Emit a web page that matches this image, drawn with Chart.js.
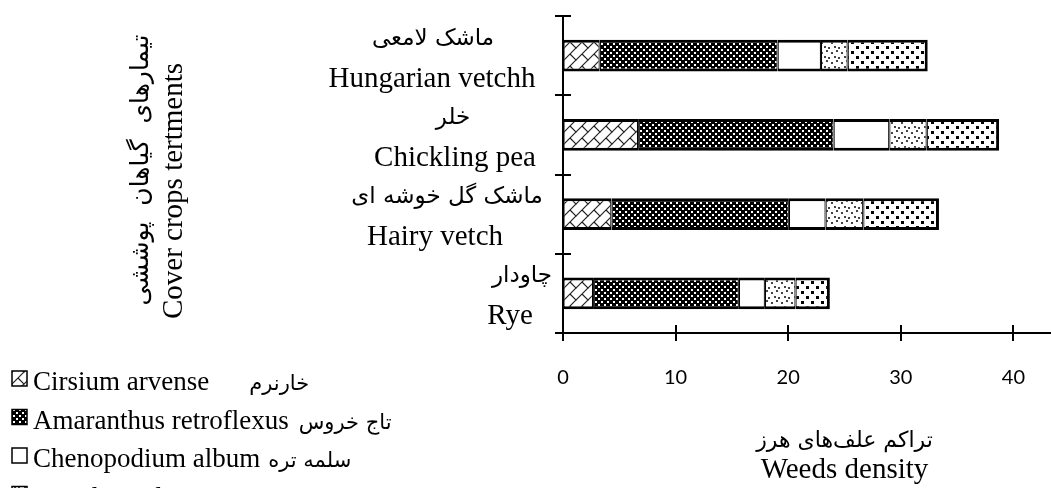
<!DOCTYPE html>
<html>
<head>
<meta charset="utf-8">
<script src="https://cdn.jsdelivr.net/npm/chart.js@4.4.0/dist/chart.umd.min.js"></script>
<style>
    html, body { margin: 0; padding: 0; background: #fff; overflow: hidden; }
    #contenedor { position: relative; width: 1140px; height: 488px; }
    #grafico { display: block; }
</style>
</head>
<body>
<div id="contenedor"><canvas id="grafico" width="1140" height="488"></canvas></div>
<script>
// Cover crops, top to bottom
const cultivos = ['Hungarian vetchh', 'Chickling pea', 'Hairy vetch', 'Rye'];
const cultivosFa = ['ماشک لامعی', 'خلر', 'ماشک گل خوشه ای', 'چاودار'];

// Weed species (series)
const malezas = ['Cirsium arvense', 'Amaranthus retroflexus', 'Chenopodium album', 'Portulaca oleracea', 'Convolvulus arvensis'];
const malezasFa = ['خارنرم', 'تاج خروس', 'سلمه تره', 'خرفه', 'پیچک صحرایی'];

// Weed density per crop (same order as cultivos)
const cirsium = [3.26, 6.67, 4.3, 2.67];
const amaranthus = [15.8, 17.36, 15.76, 12.95];
const chenopodium = [3.85, 4.95, 3.26, 2.31];
const portulaca = [2.37, 3.32, 3.35, 2.72];
const convolvulus = [7.11, 6.43, 6.72, 3.05];

const ticksX = [0, 10, 20, 30, 40, 50];

// Text placement (pixels)
const etiquetaXFa = [433, 453, 447, 522];
const etiquetaXEn = [432, 455, 435, 510];
const legendaGap = [40, 10, 8, 10, 10];

const SERIF = "'Liberation Serif', 'Times New Roman', serif";
const FA = "'DejaVu Sans', sans-serif";

// Build a fill pattern from a small tile
function crearPatron(size, dibujar) {
    const c = document.createElement('canvas');
    c.width = size; c.height = size;
    const g = c.getContext('2d');
    g.fillStyle = '#fff';
    g.fillRect(0, 0, size, size);
    dibujar(g);
    return g.createPattern(c, 'repeat');
}

const patrones = [
    // diagonal brick
    crearPatron(12, g => {
        g.strokeStyle = '#222';
        g.lineWidth = 1.2;
        g.beginPath();
        g.moveTo(-1, 13); g.lineTo(13, -1);
        g.moveTo(6, 6); g.lineTo(12, 12);
        g.moveTo(0, 0); g.lineTo(0.5, 0.5);
        g.stroke();
    }),
    // dark checker
    crearPatron(6, g => {
        g.fillStyle = '#000';
        g.fillRect(0, 0, 6, 6);
        g.fillStyle = '#fff';
        g.fillRect(1, 1, 2, 2);
        g.fillRect(4, 4, 2, 2);
    }),
    '#ffffff',
    // light dots
    crearPatron(10, g => {
        g.fillStyle = '#444';
        g.fillRect(1, 2, 2, 2);
        g.fillRect(6, 0, 2, 2);
        g.fillRect(4, 6, 2, 2);
        g.fillRect(8, 7, 2, 2);
    }),
    // heavy dots
    crearPatron(10, g => {
        g.fillStyle = '#000';
        g.fillRect(1, 1, 3, 3);
        g.fillRect(6, 6, 3, 3);
    })
];

const valores = [cirsium, amaranthus, chenopodium, portulaca, convolvulus];

function linea(ctx, x1, y1, x2, y2) {
    ctx.beginPath();
    ctx.moveTo(x1, y1);
    ctx.lineTo(x2, y2);
    ctx.stroke();
}

// Tick marks, category labels, axis titles and legend
const capaTexto = {
    id: 'capaTexto',
    afterDraw(chart) {
        const ctx = chart.ctx;
        const x = chart.scales.x;
        const y = chart.scales.y;
        const area = chart.chartArea;
        ctx.save();
        ctx.strokeStyle = '#000';
        ctx.lineWidth = 2;

        x.ticks.forEach(t => {
            const px = Math.round(x.getPixelForValue(t.value));
            linea(ctx, px, area.bottom - 8, px, area.bottom + 8);
        });
        const n = cultivos.length;
        for (let k = 0; k <= n; k++) {
            const py = Math.round(area.top + k * (area.bottom - area.top) / n);
            linea(ctx, area.left - 8, py, area.left + 8, py);
        }

        ctx.fillStyle = '#000';
        ctx.textBaseline = 'alphabetic';
        ctx.textAlign = 'center';
        cultivos.forEach((c, i) => {
            const py = y.getPixelForValue(i);
            ctx.font = '23px ' + FA;
            ctx.fillText(cultivosFa[i], etiquetaXFa[i], py - 11);
            ctx.font = '29px ' + SERIF;
            ctx.fillText(c, etiquetaXEn[i], py + 31);
        });

        // y axis title
        ctx.save();
        ctx.translate(148, 170);
        ctx.rotate(-Math.PI / 2);
        ctx.font = '25px ' + FA;
        ctx.fillText('تیمارهای  گیاهان  پوششی', 0, 0);
        ctx.restore();
        ctx.save();
        ctx.translate(182, 191);
        ctx.rotate(-Math.PI / 2);
        ctx.font = '29px ' + SERIF;
        ctx.fillText('Cover crops tertments', 0, 0);
        ctx.restore();

        // x axis title
        const cx = (area.left + area.right) / 2;
        ctx.font = '22px ' + FA;
        ctx.fillText('تراکم علف\u200cهای هرز', cx, 447);
        ctx.font = '29px ' + SERIF;
        ctx.fillText('Weeds density', cx, 478);

        // legend
        ctx.textAlign = 'left';
        chart.data.datasets.forEach((ds, i) => {
            const base = 390 + i * 38.5;
            ctx.fillStyle = ds.backgroundColor;
            ctx.fillRect(12, base - 19, 15, 15);
            ctx.lineWidth = 1.5;
            ctx.strokeRect(12, base - 19, 15, 15);
            ctx.fillStyle = '#000';
            ctx.font = '27px ' + SERIF;
            ctx.fillText(ds.label, 33, base);
            const w = ctx.measureText(ds.label).width;
            ctx.font = '21px ' + FA;
            ctx.fillText(malezasFa[i], 33 + w + legendaGap[i], base);
        });
        ctx.restore();
    }
};

const datasets = malezas.map((m, i) => ({
    label: m,
    data: valores[i],
    backgroundColor: patrones[i],
    borderColor: '#000',
    borderWidth: { top: 3, bottom: 3, left: 1.2, right: i === malezas.length - 1 ? 3 : 1.2 },
    borderSkipped: false,
    categoryPercentage: 1,
    barPercentage: 0.4
}));

const grafico = new Chart(document.getElementById('grafico'), {
    type: 'bar',
    data: { labels: cultivos, datasets: datasets },
    options: {
        indexAxis: 'y',
        responsive: false,
        devicePixelRatio: 1,
        animation: false,
        layout: { padding: { top: 16, right: 14, left: 0, bottom: 0 } },
        plugins: { legend: { display: false }, tooltip: { enabled: false } },
        scales: {
            x: {
                stacked: true,
                min: ticksX[0],
                max: ticksX[ticksX.length - 1],
                afterBuildTicks: s => { s.ticks = ticksX.map(v => ({ value: v })); },
                ticks: { color: '#000', font: { family: 'Lato', size: 20 }, padding: 33, maxRotation: 0 },
                grid: { display: true, drawOnChartArea: false, drawTicks: false },
                border: { display: true, color: '#000', width: 2 },
                afterFit: s => { s.height = 155; s.paddingLeft = 0; s.paddingRight = 0; }
            },
            y: {
                stacked: true,
                offset: true,
                ticks: { display: false },
                grid: { display: true, drawOnChartArea: false, drawTicks: false },
                border: { display: true, color: '#000', width: 2 },
                afterFit: s => { s.width = 563; }
            }
        }
    },
    plugins: [capaTexto]
});
console.log('area', JSON.stringify(grafico.chartArea), grafico.width);
</script>
</body>
</html>
